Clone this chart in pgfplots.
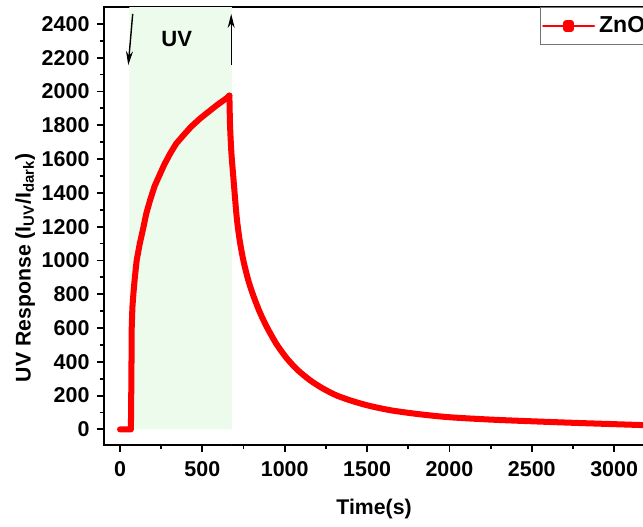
\documentclass[border=0pt]{standalone}
\usepackage{fontspec}
\setmainfont{Liberation Sans}
\usepackage{pgfplots}
\pgfplotsset{compat=1.18}
\usetikzlibrary{arrows.meta}
\definecolor{bandgreen}{RGB}{236,251,236}
\definecolor{znored}{RGB}{255,0,0}

\begin{document}
\begin{tikzpicture}
\begin{axis}[
    scale only axis,
    width=269.85pt,
    height=218.5pt,
    xmin=-100, xmax=3185,
    ymin=-93, ymax=2500,
    xtick={0,500,...,3000},
    ytick={0,200,...,2400},
    minor x tick num=1,
    minor y tick num=1,
    xtick pos=bottom,
    ytick pos=left,
    tick align=outside,
    major tick length=3.5pt,
    minor tick length=2pt,
    every tick/.style={black, line width=0.9pt},
    axis line style={black, line width=1pt},
    /pgf/number format/assume math mode=true,
    /pgf/number format/1000 sep={},
    tick label style={font=\bfseries\fontsize{10.7}{12}\selectfont},
    xticklabel style={yshift=-1pt},
    xlabel={Time(s)},
    ylabel={UV Response (I\textsubscript{UV}/I\textsubscript{dark})},
    every axis x label/.style={at={(axis description cs:0.5,-0.1465)}, anchor=center,
        font=\bfseries\fontsize{10.6}{12}\selectfont},
    every axis y label/.style={at={(axis description cs:-0.145,0.405)}, anchor=center, rotate=90,
        font=\bfseries\fontsize{10.6}{12}\selectfont},
    legend style={at={(axis description cs:0.806,1)}, anchor=north west,
        draw=black!55, line width=0.5pt, inner xsep=1pt, inner ysep=2.5pt,
        font=\bfseries\fontsize{11.5}{13}\selectfont},
    legend image code/.code={
        \draw[znored, line width=0.9pt] (0pt,0pt) -- (25.5pt,0pt);
        \fill[znored] (11.5pt,-1.3pt) rectangle (14pt,1.3pt);
    },
]

% UV-on window
\addplot[fill=bandgreen, draw=none, forget plot] coordinates {
    (57,-93) (57,2500) (679,2500) (679,-93)
} \closedcycle;

% rise (UV on)
\addplot[znored, line width=3pt, line join=round, line cap=round, mark=none] coordinates {
    (0,0) (20,0) (40,0) (60,0) (66,0)
    (69,300) (71,600) (75,720) (81,800) (90,900) (101,1000)
    (120,1100) (142,1196) (160,1280) (182,1355) (210,1440)
    (243,1512) (270,1570) (304,1632) (340,1690) (385,1741)
    (430,1790) (486,1840) (540,1882) (588,1919) (625,1945)
    (650,1962) (664,1976)
};
\addlegendentry{ZnO}

% decay (UV off)
\addplot[znored, line width=3pt, line join=round, line cap=round, mark=none,
    smooth, tension=0.45, forget plot] coordinates {
    (664,1976) (668,1800) (676,1640) (689,1480) (709,1250) (728,1110)
    (750,995) (778,885) (810,790) (848,695) (892,605)
    (950,505) (1013,420) (1080,350) (1155,290) (1230,243)
    (1317,200) (1420,165) (1520,138) (1650,112) (1824,89)
    (2000,72) (2250,58) (2500,48) (2750,39) (3000,31) (3185,25)
};

\draw[-{Stealth[length=7pt,width=3.5pt]}, line width=0.7pt] (axis cs:77,2459) -- (axis cs:50,2156);
\draw[-{Stealth[length=7pt,width=3.5pt]}, line width=0.7pt] (axis cs:675,2156) -- (axis cs:675,2459);
\node[font=\bfseries\fontsize{11}{12}\selectfont] at (axis cs:344,2309) {UV};
\end{axis}
\pgfresetboundingbox
\path[use as bounding box]
    ([shift={(-51.65pt,-40.5pt)}]current axis.south west)
    rectangle ([shift={(-0.8pt,3.5pt)}]current axis.north east);
\end{tikzpicture}
\end{document}
